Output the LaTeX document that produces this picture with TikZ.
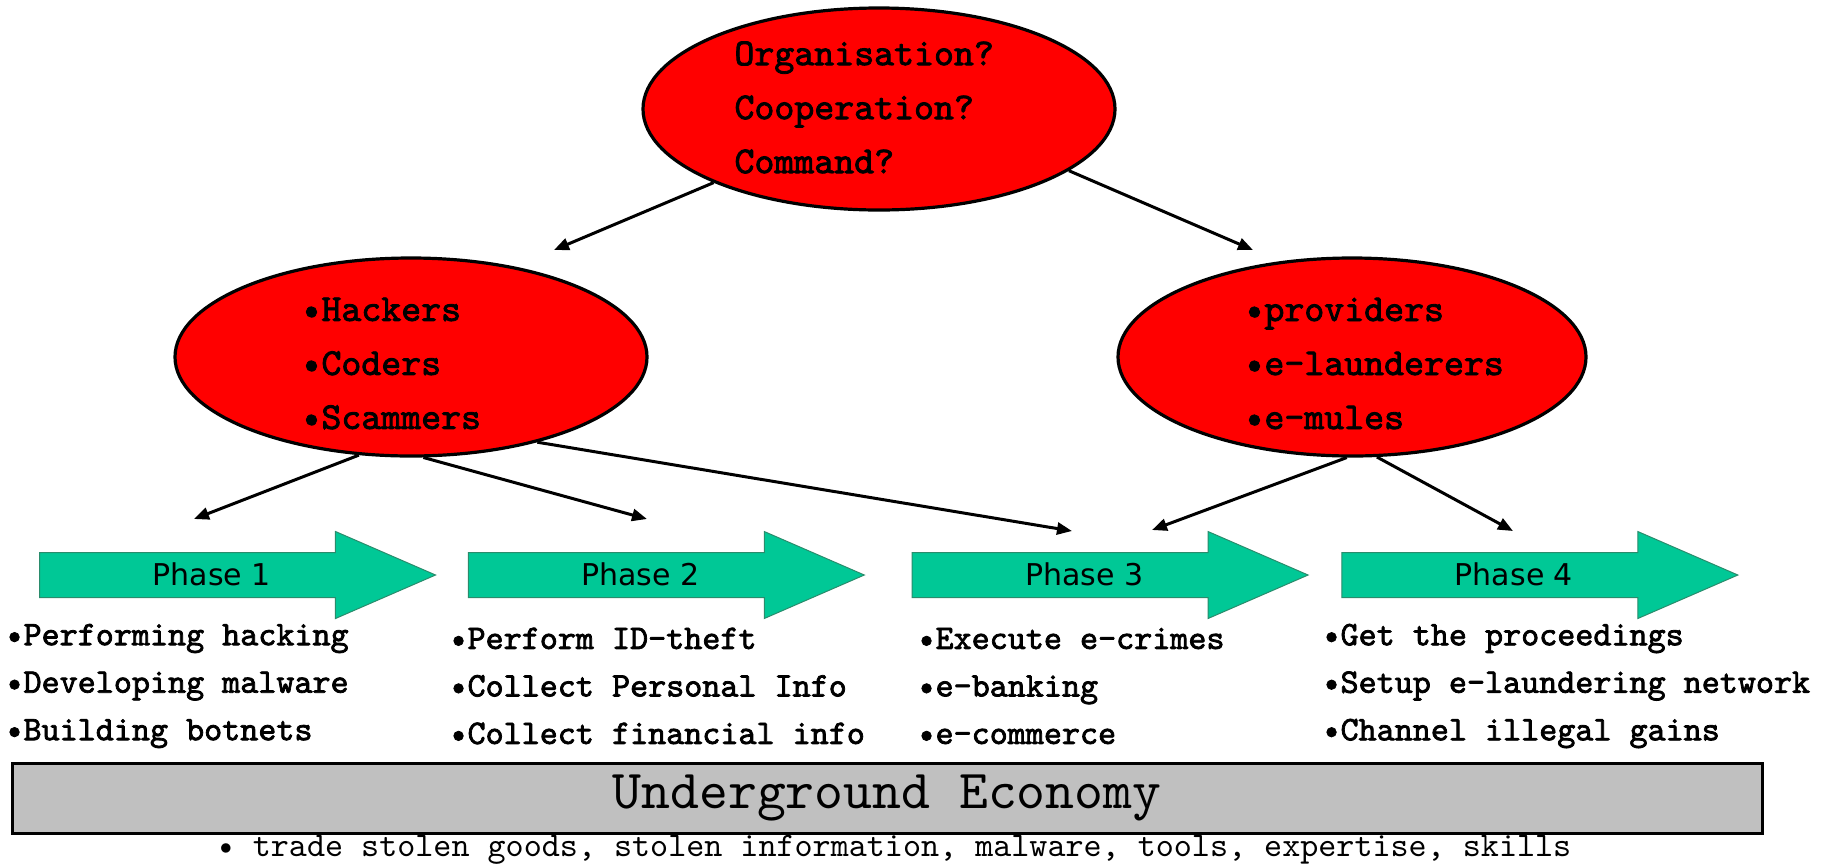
\documentclass[tikz,border=0pt]{standalone}
\usepackage{fontspec}
\setsansfont{DejaVu Sans}
\setmonofont{lmmono10-regular}[Extension=.otf, BoldFont=lmmono10-regular, BoldFeatures={FakeBold=2.2}]
\usepackage{tikz}
\usetikzlibrary{arrows.meta, positioning, shapes.geometric, shapes.arrows}
\usepackage{xcolor}
\definecolor{mRed}{HTML}{FF0000}
\definecolor{mTeal}{HTML}{00C896}
\definecolor{mDarkTeal}{HTML}{2A8C6C}
\definecolor{mGray}{HTML}{C0C0C0}

\begin{document}
\begin{tikzpicture}[x=0.5pt, y=-0.5pt, >={Triangle[length=7.5pt, width=6pt]}, line width=1.5pt,
    actor/.style={draw, ellipse, fill=mRed, line width=1.6pt, inner sep=0pt},
    who/.style={anchor=west, align=left, inner sep=0pt, font=\ttfamily\bfseries\fontsize{19}{27}\selectfont},
    phase/.style={single arrow, draw=mDarkTeal, line width=0.5pt, fill=mTeal, minimum height=198pt,
      single arrow head extend=10.5pt, single arrow tip angle=47, inner ysep=0pt,
      text height=16pt, text depth=6pt, font=\sffamily\fontsize{15}{17}\selectfont},
    task/.style={anchor=west, align=left, inner sep=0pt, font=\ttfamily\bfseries\fontsize{17.2}{23.75}\selectfont}]
      \useasboundingbox (0,0) rectangle (1825,863);
      % who is behind it
      \node[actor, minimum width=236pt, minimum height=101pt] (org) at (879,109) {};
      \node[who] (orgq) at (733,107.5) {Organisation?\\Cooperation?\\Command?};
      \node[actor, minimum width=236pt, minimum height=99pt] (hack) at (411,357) {};
      \node[who] (hackq) at (300,363.5) {•Hackers\\•Coders\\•Scammers};
      \node[actor, minimum width=234pt, minimum height=99pt] (prov) at (1352,357) {};
      \node[who] (provq) at (1243,363.5) {•providers\\•e-launderers\\•e-mules};
      % the four phases
      \node[phase, anchor=west] (p1) at (39,575) {Phase 1};
      \node[phase, right=15.5pt of p1] (p2) {Phase 2};
      \node[phase, right=23pt of p2] (p3) {Phase 3};
      \node[phase, right=16pt of p3] (p4) {Phase 4};
      \node[task] (l1) at (4,686) {•Performing hacking\\•Developing malware\\•Building botnets};
      \node[task] (l2) at (448,686) {•Perform ID-theft\\•Collect Personal Info\\•Collect financial info};
      \node[task] (l3) at (916,686) {•Execute e-crimes\\•e-banking\\•e-commerce};
      \node[task] (l4) at (1321,686) {•Get the proceedings\\•Setup e-laundering network\\•Channel illegal gains};
      % market underneath
      \node[draw, line width=1.5pt, fill=mGray, minimum width=875pt, minimum height=35pt, inner sep=0pt,
        font=\ttfamily\fontsize{27.5}{29}\selectfont] (econ) at (887,798) {Underground Economy};
      \node[inner sep=0pt, font=\ttfamily\fontsize{17.2}{18}\selectfont] (trade) at (894,850)
        {• trade stolen goods, stolen information, malware, tools, expertise, skills};
      % arrows
      \coordinate (ta) at (554,250);
      \coordinate (tb) at (1253,250);
      \coordinate (t1) at (194,519);
      \coordinate (t2) at (647,519);
      \coordinate (t3) at (1072,531);
      \coordinate (t4) at (1152,530);
      \coordinate (t5) at (1513,531);
      \draw[->] (org.204) -- (ta);
      \draw[->] (org.342) -- (tb);
      \draw[->] (hack.242) -- (t1);
      \draw[->] (hack.277) -- (t2);
      \draw[->] (hack.326) -- (t3);
      \draw[->] (prov.267) -- (t4);
      \draw[->] (prov.284) -- (t5);
    \end{tikzpicture}
\end{document}
